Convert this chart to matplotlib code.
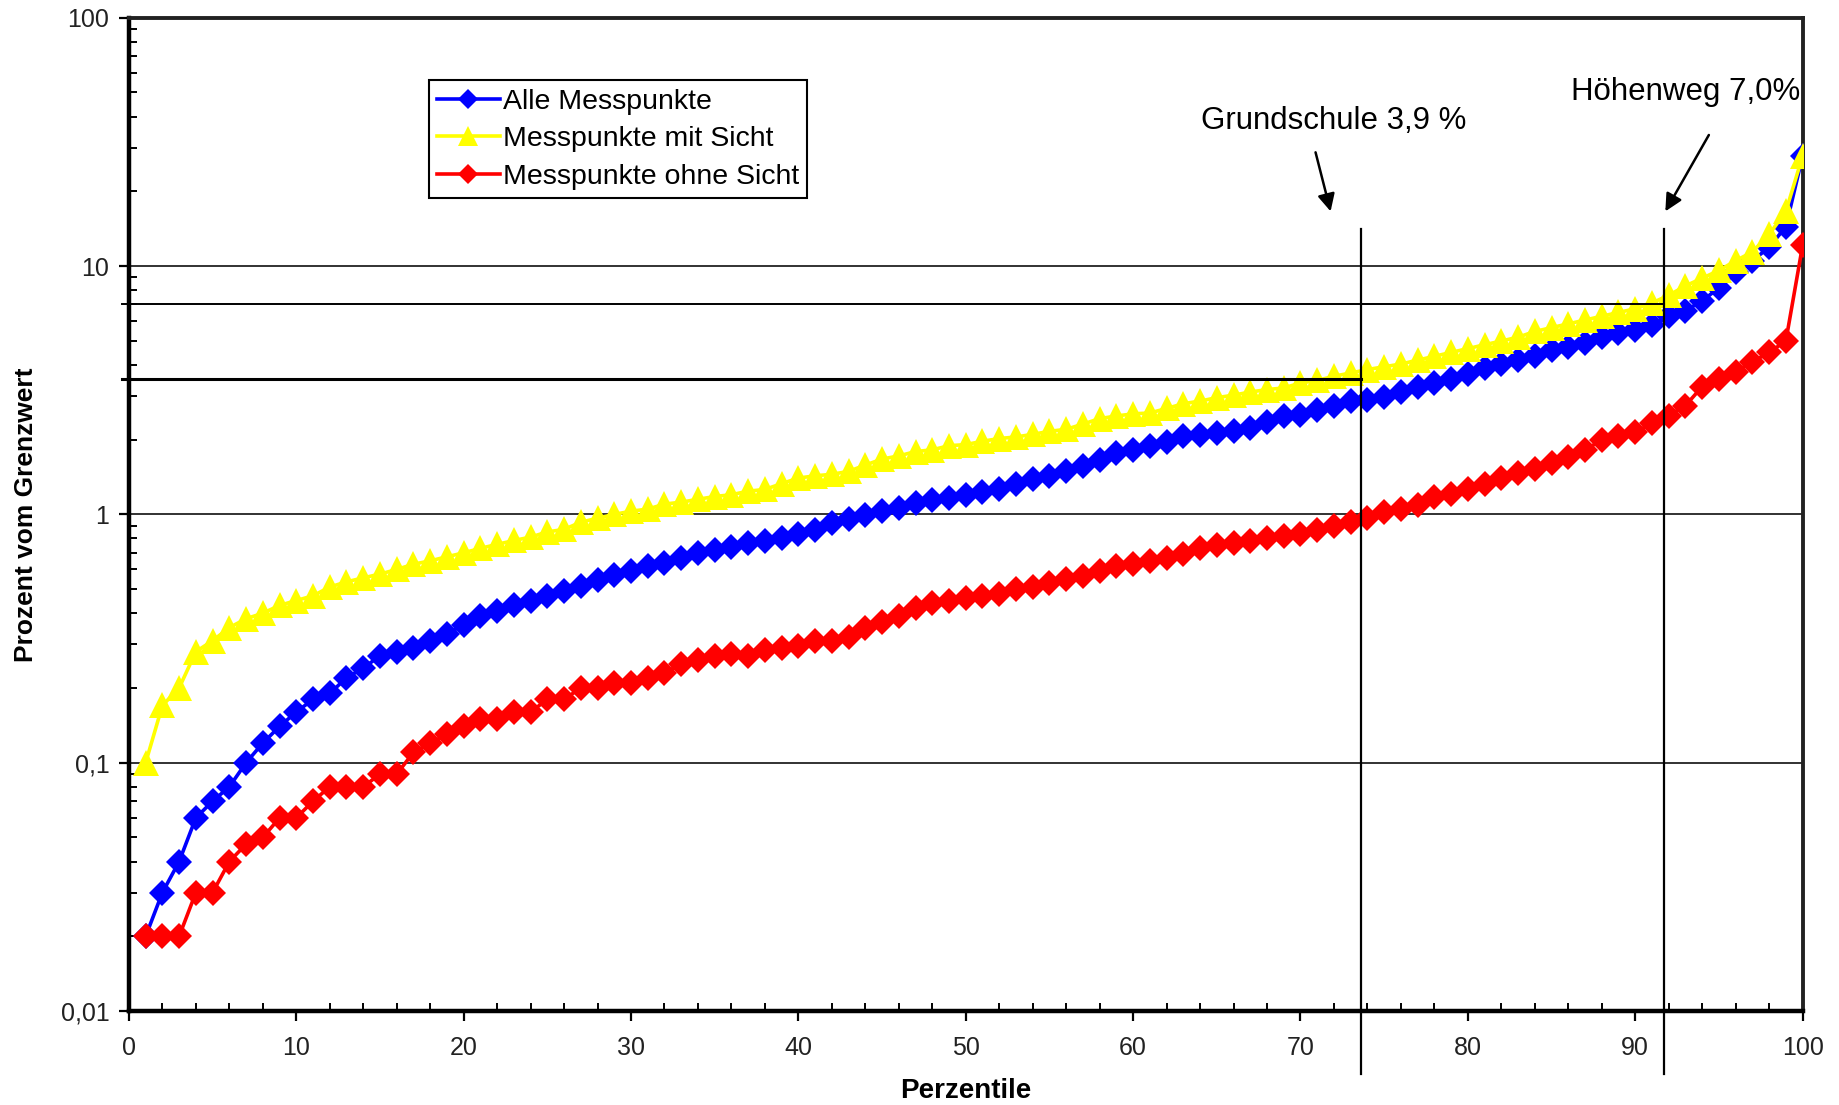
import matplotlib
matplotlib.use("Agg")
import matplotlib.pyplot as plt
import numpy as np
from matplotlib.ticker import FixedLocator, NullFormatter

plt.rcParams['font.family'] = ['Liberation Sans', 'DejaVu Sans']

percentiles = list(range(1, 101))

alle = [0.02, 0.03, 0.04, 0.06, 0.07, 0.08, 0.10, 0.12, 0.14, 0.16,
        0.18, 0.19, 0.22, 0.24, 0.27, 0.28, 0.29, 0.31, 0.33, 0.36,
        0.39, 0.41, 0.43, 0.45, 0.47, 0.49, 0.515, 0.545, 0.57, 0.59,
        0.62, 0.64, 0.67, 0.70, 0.72, 0.74, 0.77, 0.78, 0.80, 0.83,
        0.865, 0.92, 0.955, 0.99, 1.03, 1.06, 1.11, 1.14, 1.16, 1.20,
        1.23, 1.26, 1.33, 1.39, 1.43, 1.49, 1.56, 1.65, 1.77, 1.82,
        1.88, 1.95, 2.07, 2.08, 2.12, 2.16, 2.23, 2.35, 2.49, 2.52,
        2.64, 2.73, 2.86, 2.90, 2.98, 3.10, 3.27, 3.38, 3.50, 3.69,
        3.89, 4.03, 4.18, 4.33, 4.57, 4.73, 4.90, 5.17, 5.35, 5.55,
        5.78, 6.28, 6.62, 7.23, 8.18, 9.42, 10.5, 11.9, 14.4, 27.7]

mit_sicht = [0.10, 0.17, 0.20, 0.28, 0.31, 0.35, 0.38, 0.40, 0.43, 0.45,
             0.47, 0.51, 0.535, 0.555, 0.575, 0.60, 0.63, 0.65, 0.675, 0.70,
             0.73, 0.757, 0.785, 0.81, 0.85, 0.87, 0.93, 0.965, 1.0, 1.03,
             1.05, 1.10, 1.12, 1.15, 1.18, 1.20, 1.24, 1.26, 1.33, 1.40,
             1.43, 1.45, 1.49, 1.58, 1.67, 1.72, 1.79, 1.82, 1.89, 1.91,
             1.97, 2.02, 2.05, 2.10, 2.16, 2.20, 2.31, 2.43, 2.49, 2.54,
             2.56, 2.67, 2.79, 2.86, 2.95, 3.02, 3.11, 3.18, 3.23, 3.38,
             3.46, 3.60, 3.71, 3.83, 3.93, 4.03, 4.18, 4.33, 4.49, 4.65,
             4.82, 4.99, 5.17, 5.45, 5.65, 5.85, 6.06, 6.28, 6.50, 6.73,
             7.10, 7.62, 8.32, 8.93, 9.60, 10.5, 11.4, 13.4, 16.6, 27.7]

ohne_sicht = [0.02, 0.02, 0.02, 0.03, 0.03, 0.04, 0.047, 0.05, 0.06, 0.06,
              0.07, 0.08, 0.08, 0.08, 0.09, 0.09, 0.11, 0.12, 0.13, 0.14,
              0.15, 0.15, 0.16, 0.16, 0.18, 0.18, 0.20, 0.20, 0.21, 0.21,
              0.22, 0.23, 0.25, 0.26, 0.27, 0.275, 0.27, 0.285, 0.29, 0.295,
              0.31, 0.31, 0.32, 0.35, 0.37, 0.39, 0.42, 0.44, 0.45, 0.46,
              0.47, 0.48, 0.50, 0.51, 0.53, 0.55, 0.565, 0.59, 0.62, 0.63,
              0.65, 0.67, 0.69, 0.73, 0.75, 0.77, 0.78, 0.80, 0.82, 0.83,
              0.865, 0.90, 0.93, 0.97, 1.02, 1.05, 1.09, 1.17, 1.21, 1.26,
              1.33, 1.40, 1.47, 1.53, 1.61, 1.70, 1.82, 1.99, 2.06, 2.14,
              2.33, 2.50, 2.74, 3.27, 3.50, 3.76, 4.11, 4.49, 4.99, 12.1]

series_labels = ["Alle Messpunkte", "Messpunkte mit Sicht", "Messpunkte ohne Sicht"]
ytick_values = [0.01, 0.1, 1, 10, 100]
ytick_labels = ["0,01", "0,1", "1", "10", "100"]
xtick_values = [0, 10, 20, 30, 40, 50, 60, 70, 80, 90, 100]

grundschule_x = 73.6
grundschule_y = 3.5
hoehenweg_x = 91.7
hoehenweg_y = 7.0

fig = plt.figure(figsize=(18.39, 11.05), dpi=100)
ax = fig.add_axes([0.0701, 0.085, 0.9101, 0.899])

ax.set_yscale('log')
ax.set_xlim(0, 100)
ax.set_ylim(0.01, 100)

# grid lines
for g in [0.1, 1, 10]:
    ax.axhline(g, color='#222222', lw=1.3, zorder=1)

ax.plot(percentiles, alle, color='#0000FF', lw=2.6, marker='D', markersize=13,
        markeredgewidth=0, label=series_labels[0], zorder=3)
ax.plot(percentiles, mit_sicht, color='#FFFF00', lw=2.6, marker='^', markersize=18.5,
        markeredgewidth=0, label=series_labels[1], zorder=4)
ax.plot(percentiles, ohne_sicht, color='#FF0000', lw=2.6, marker='D', markersize=13,
        markeredgewidth=0, label=series_labels[2], zorder=3)

# reference lines
ax.plot([-0.4, hoehenweg_x], [hoehenweg_y, hoehenweg_y], color='black', lw=1.4,
        zorder=5, clip_on=False)
ax.plot([-0.4, grundschule_x], [grundschule_y, grundschule_y], color='black', lw=2.2,
        zorder=5, clip_on=False)
for vx in [grundschule_x, hoehenweg_x]:
    ax.plot([vx, vx], [14.1, 0.0056], color='black', lw=1.6, zorder=5, clip_on=False)

# annotations
ax.text(72.0, 38.4, "Grundschule 3,9 %", ha='center', va='center', fontsize=22.5)
ax.text(93.0, 50.4, "Höhenweg 7,0%", ha='center', va='center', fontsize=22.5)
arrow_kw = dict(arrowstyle='-|>', color='black', lw=1.8, mutation_scale=26,
                shrinkA=0, shrinkB=0)
ax.annotate("", xy=(71.8, 16.6), xytext=(70.9, 28.7), arrowprops=arrow_kw)
ax.annotate("", xy=(91.8, 16.6), xytext=(94.4, 33.7), arrowprops=arrow_kw)

# ticks
ax.yaxis.set_major_locator(FixedLocator(ytick_values))
ax.set_yticklabels(ytick_labels)
minor_y = [m * 10.0 ** e for e in range(-2, 2) for m in range(2, 10)]
ax.yaxis.set_minor_locator(FixedLocator(minor_y))
ax.yaxis.set_minor_formatter(NullFormatter())
ax.xaxis.set_major_locator(FixedLocator(xtick_values))
ax.xaxis.set_minor_locator(FixedLocator([v for v in range(2, 100, 2) if v % 10 != 0]))

ax.tick_params(axis='both', which='major', direction='out', length=7, width=1.6,
               labelsize=18, colors='black', labelcolor='#222222')
ax.tick_params(axis='y', which='major', pad=7)
ax.tick_params(axis='x', which='major', pad=11)
ax.tick_params(axis='both', which='minor', direction='in', length=6, width=1.4,
               colors='black')

for side in ['left', 'bottom']:
    ax.spines[side].set_linewidth(3.2)
    ax.spines[side].set_color('black')
for side in ['top', 'right']:
    ax.spines[side].set_linewidth(2.8)
    ax.spines[side].set_color('#222222')

ax.set_xlabel("Perzentile", fontsize=20, fontweight='bold', labelpad=13)
ax.set_ylabel("Prozent vom Grenzwert", fontsize=19, fontweight='bold', labelpad=16)

leg = ax.legend(loc='upper left', bbox_to_anchor=(0.179, 0.937), borderaxespad=0,
                fancybox=False, edgecolor='black', fontsize=20.5, handlelength=2.2,
                handletextpad=0.1, labelspacing=0.4, borderpad=0.3, framealpha=1,
                markerscale=0.8)
leg.get_frame().set_linewidth(1.5)
leg.set_zorder(6)

fig.savefig("out.png", dpi=100, facecolor='white')
